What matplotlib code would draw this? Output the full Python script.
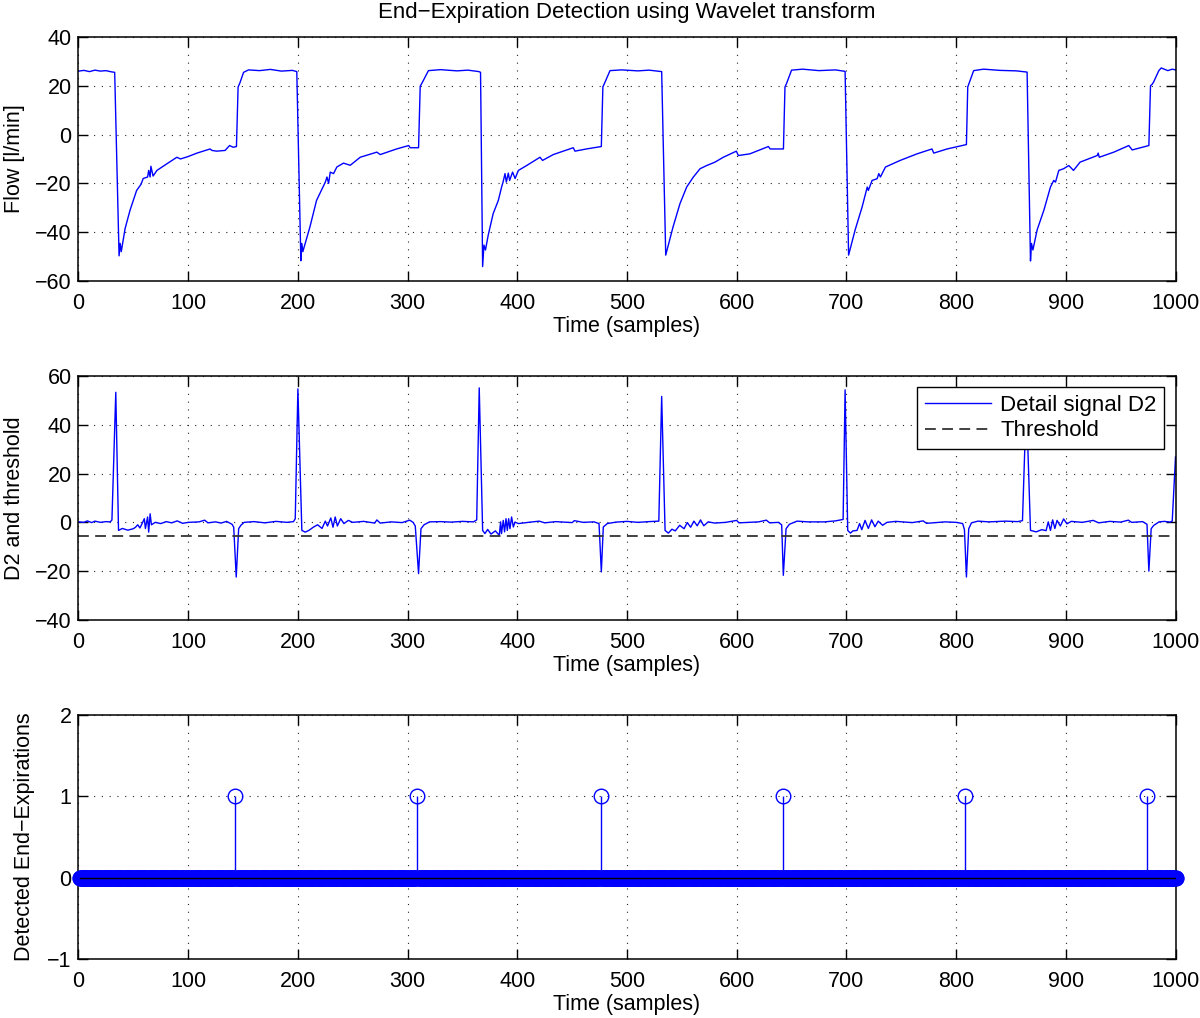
import numpy as np
import matplotlib
matplotlib.use("Agg")
import matplotlib.pyplot as plt

plt.rcParams['font.family'] = ['Liberation Sans', 'DejaVu Sans']
plt.rcParams['font.size'] = 15.5

# flow signal, vertices (sample, l/min)
flow_t = [0, 5, 10, 15, 20, 25, 30, 33, 37, 38, 39, 42.5, 47, 53, 57, 59, 63, 64, 65.3, 66,
          68, 71.5, 80.5, 89.7, 93, 100, 108, 120, 121.6, 126, 133.7, 137.7, 141, 144, 145.5,
          147, 150.5, 155, 165, 175, 185, 195, 199, 202.7, 203.6, 204.5, 211, 217, 225,
          226.5, 228, 229.5, 232.5, 235.5, 241.6, 247.7, 256.8, 272, 275, 290, 301, 302.4,
          310, 311.5, 313, 319, 330, 345, 355, 365, 366.5, 368.4, 369.6, 371, 373.5, 378,
          382.7, 385.7, 387, 388.8, 390, 391.8, 393, 395.7, 398, 401, 408.5, 420.7, 423,
          432.8, 451, 452.6, 463, 476.6, 478, 479.5, 484.5, 495, 510, 520, 531.6, 535.3,
          536.5, 542, 548.3, 554.4, 560.5, 566.6, 572.6, 580.2, 587.8, 599.7, 601.5, 612,
          628.9, 630.5, 642.6, 644, 645.5, 650, 660, 675, 690, 698.8, 702, 708, 714.3, 719,
          720, 723.4, 728, 729.5, 731, 735.6, 749, 764.4, 778, 779.6, 791.8, 809.4, 810.6,
          811.8, 816, 825, 840, 855, 864.7, 867.8, 868.7, 870, 873.9, 880, 886, 889, 890.6,
          893.6, 898, 902.7, 907, 913, 928.6, 929.5, 930.5, 943.8, 957.4, 960.5, 975.7,
          977.2, 978.5, 980, 984.8, 987, 993, 997, 1000]
flow_v = [26.0, 26.3, 25.8, 26.4, 26.0, 26.2, 25.7, 25.5, -49.7, -44.6, -48.0, -38.5, -31,
          -22.9, -20.4, -18, -17.4, -14.7, -17.4, -13, -17, -14.7, -12, -9.3, -10, -9, -7.6,
          -5.9, -6.5, -6.8, -6.5, -4.5, -5.2, -4.9, 19.5, 21, 25.5, 26.5, 26.2, 26.7, 26.0,
          26.3, 25.8, -51.7, -44.6, -48, -37.8, -27, -19.5, -17.4, -20, -15.4, -16, -13.3,
          -11.7, -12.6, -9.3, -7.2, -8.2, -5.9, -4.5, -5.4, -5.4, 19.8, 21, 26.2, 26.6,
          26.1, 26.4, 25.8, 25.5, -54.1, -45.3, -47.3, -41.2, -32.4, -27, -21.5, -19.5, -16,
          -19.5, -15.8, -18.8, -15.4, -18, -14.7, -12.7, -9.3, -10.6, -8.2, -5.4, -6.8, -5.9,
          -4.9, 19.5, 21, 26.2, 26.5, 26.1, 26.4, 25.8, -49.4, -47.3, -37.8, -28.3, -21.5,
          -17.4, -14, -12.7, -11.3, -9.3, -6.8, -8.6, -7.9, -4.9, -5.9, -5.9, 19.5, 21, 26.4,
          26.8, 26.2, 26.5, 25.9, -49.4, -39, -29.7, -21.5, -22.9, -18.8, -18.1, -16, -17.4,
          -13.3, -10.6, -7.9, -5.9, -7.6, -5.9, -4.1, 19.5, 21, 26.2, 26.8, 26.3, 26.1,
          25.6, -51.8, -44.6, -47.3, -39, -31, -21.5, -18.8, -19.5, -14.7, -14, -12.7, -14.7,
          -11.3, -8.6, -7.6, -9.3, -7.2, -4.5, -6.3, -4.5, 20, 20.5, 21.5, 26.2, 27.3, 26.2,
          26.8, 26.5]

# wavelet detail signal D2, vertices
d2_t = [0, 5, 8, 12, 15, 20, 25, 29, 30.5, 34, 36.5, 40, 45, 50, 52, 54, 56, 58, 60, 61, 63,
        64, 65.3, 66.5, 70, 75, 80, 85, 90, 95, 100, 110, 115, 118, 125, 130, 135, 140, 141.5,
        143.8, 146, 148, 151, 160, 170, 180, 190, 196, 197.6, 200, 203.6, 206.7, 210, 214,
        218, 222, 225, 227, 230, 232, 234, 236, 239, 242, 246, 250, 260, 270, 272, 275, 285,
        295, 302, 305, 307, 310, 312.2, 315, 320, 330, 340, 350, 360, 363, 365.3, 368.4,
        370.5, 373, 376, 380, 383.6, 384.8, 385.6, 387.2, 388.4, 389.7, 390.9, 392.1, 393.3,
        394.8, 396.4, 397.9, 401, 410, 420, 425, 435, 450, 452, 460, 470, 474.5, 476.6,
        478.4, 482, 490, 500, 510, 520, 529, 531.6, 534.7, 537.7, 541, 544, 548, 552, 555,
        558, 561, 564, 567, 570, 574, 580, 590, 600, 602, 612, 620, 627, 630, 638, 641,
        642.5, 645, 648, 655, 665, 680, 690, 697, 698.8, 701.2, 703.6, 706, 709.7, 712, 714,
        717, 720, 723, 726, 729, 733, 737, 745, 760, 770, 773, 790, 800, 806, 807.6, 809.4,
        811.5, 814, 820, 830, 845, 856, 860.5, 864, 867.8, 873, 878, 882, 884, 886, 888, 890,
        892, 895, 898, 901, 905, 915, 925, 930, 940, 950, 957, 960, 970, 974, 975.7, 977.8,
        980, 985, 990, 995, 997, 1000]
d2_v = [0.2, 0, 0.6, -0.1, 0.5, 0, 0.3, 0.2, 1, 53.3, -3.3, -2.5, -3.2, -2.6, -2, -1, -2.3,
        -0.5, 1.5, -2.5, 2.2, -4, 3.5, -1, 0, -0.5, 0.3, -0.2, 0.6, -0.4, 0, 0.2, 0.9, -0.2,
        0.2, -0.3, 0.4, -0.8, -2, -22.4, -2.6, -1.2, 0, 0.3, -0.2, 0.4, 0, 0.3, 1.5, 54.7,
        -3.3, -4, -3.3, -2, -1, -2.5, 0.5, -1.5, 1.8, -2, 2.2, -1.5, 1.5, -0.5, 0.8, 0, 0.4,
        -0.3, 1, -0.3, 0.2, -0.1, 0.9, 0, -1.5, -21, -2.6, -1, 0.2, 0.3, 0.1, 0.4, 0.2, 1,
        55.1, -3.3, -4.6, -2.9, -4.8, -3.5, -5.3, 0.2, -4.6, 0.8, -3.9, 1.5, -3.3, 1.5, -2.6,
        2.2, -1.9, 0.1, -0.5, 0, 0.5, -0.2, 0.3, -0.1, 0.7, 0, 0.2, -0.5, -20.3, -1.9, -0.5,
        0.1, 0.4, 0, 0.3, 0.5, 51.6, -3.3, -4.4, -2.8, -3.5, -1.2, -2.6, -0.1, -2, 0.5, -1.4,
        1, -1.4, 0.2, -0.3, 0, 0.8, -0.2, 0, 0.2, 0.9, -0.2, 0, -1, -21.7, -2.6, -0.8, 0.5,
        0.2, 0.2, 0.6, 1.2, 54.3, -3.3, -4.4, -3.5, -3.3, -0.5, -3.0, 0.8, -2.5, 1.0, -1.8,
        0.5, -1.2, 0, 0.4, -0.1, 0.6, -0.4, 0.2, 0, -0.5, -3, -22.4, -2.6, -0.2, 0.5, 0.2,
        0.5, 0.3, 0.7, 50, -3.3, -3.9, -3.0, -3.4, 0.2, -3.3, 1.0, -2.5, 0.8, -1.5, 1.4, -0.6,
        0.4, 0, 0.8, -0.2, 0.4, 0.1, 0.9, 0, 0.3, -0.8, -20, -2.6, -1.3, 0.2, 0.4, 0.1, 0.5,
        26.8]

threshold = -5.6
n_samples = 1000
detections = [143, 309, 476, 642, 808, 974]

fig = plt.figure(figsize=(12, 10.18), dpi=100)
left, width, height = 0.0654, 0.9142, 0.2397
ax1 = fig.add_axes([left, 0.7240, width, height])
ax2 = fig.add_axes([left, 0.3910, width, height])
ax3 = fig.add_axes([left, 0.0580, width, height])


def style(ax):
    ax.set_xlim(0, 1000)
    ax.set_xticks(range(0, 1001, 100))
    ax.grid(True, color='0.15', linestyle=(0, (1, 6)), linewidth=0.8)
    ax.tick_params(direction='in', length=7, width=1, top=True, right=True)
    ax.tick_params(axis='x', pad=9)
    ax.tick_params(axis='y', pad=5)
    for s in ax.spines.values():
        s.set_linewidth(1.1)
    ax.set_xlabel('Time (samples)', labelpad=1)


# top: flow
ax1.plot(flow_t, flow_v, color='#0000ff', linewidth=1.0)
style(ax1)
ax1.set_ylim(-60, 40)
ax1.set_yticks(range(-60, 41, 20))
ax1.set_ylabel('Flow [l/min]', labelpad=7)

# middle: D2 and threshold
ax2.plot(d2_t, d2_v, color='#0000ff', linewidth=1.0, label='Detail signal D2')
ax2.axhline(threshold, color='0.2', linestyle=(0, (6, 3.5)), linewidth=1.3, label='Threshold')
style(ax2)
ax2.set_ylim(-40, 60)
ax2.set_yticks(range(-40, 61, 20))
ax2.set_ylabel('D2 and threshold', labelpad=7)
leg = ax2.legend(loc='upper right', fancybox=False, framealpha=1, edgecolor='black',
                 borderaxespad=0.5, handlelength=3.0, handletextpad=0.4, labelspacing=0.2,
                 borderpad=0.35, fontsize=16)
leg.get_frame().set_linewidth(1.0)

# bottom: detected end-expirations
t = np.arange(1, n_samples + 1)
det = np.zeros(n_samples)
det[np.array(detections) - 1] = 1
markerline, stemlines, baseline = ax3.stem(t, det, linefmt='-', markerfmt='o', basefmt='k-')
markerline.set_color('#0000ff')
markerline.set_markerfacecolor('none')
markerline.set_markersize(10.5)
markerline.set_markeredgewidth(1.0)
markerline.set_clip_on(False)
stemlines.set_color('#0000ff')
stemlines.set_linewidth(1.0)
# the overlapping rings at zero merge into a solid band
zero = det == 0
ax3.plot(t[zero], det[zero], 'o', color='#0000ff', markersize=10.5, clip_on=False, zorder=3)
baseline.set_linewidth(1.0)
baseline.set_zorder(4)
style(ax3)
ax3.set_ylim(-1, 2)
ax3.set_yticks([-1, 0, 1, 2])
ax3.set_ylabel('Detected End\u2212Expirations', labelpad=9)

fig.text(0.5225, 0.988, 'End\u2212Expiration Detection using Wavelet transform',
         ha='center', va='center', fontsize=16)

fig.savefig('out.png', dpi=100)
